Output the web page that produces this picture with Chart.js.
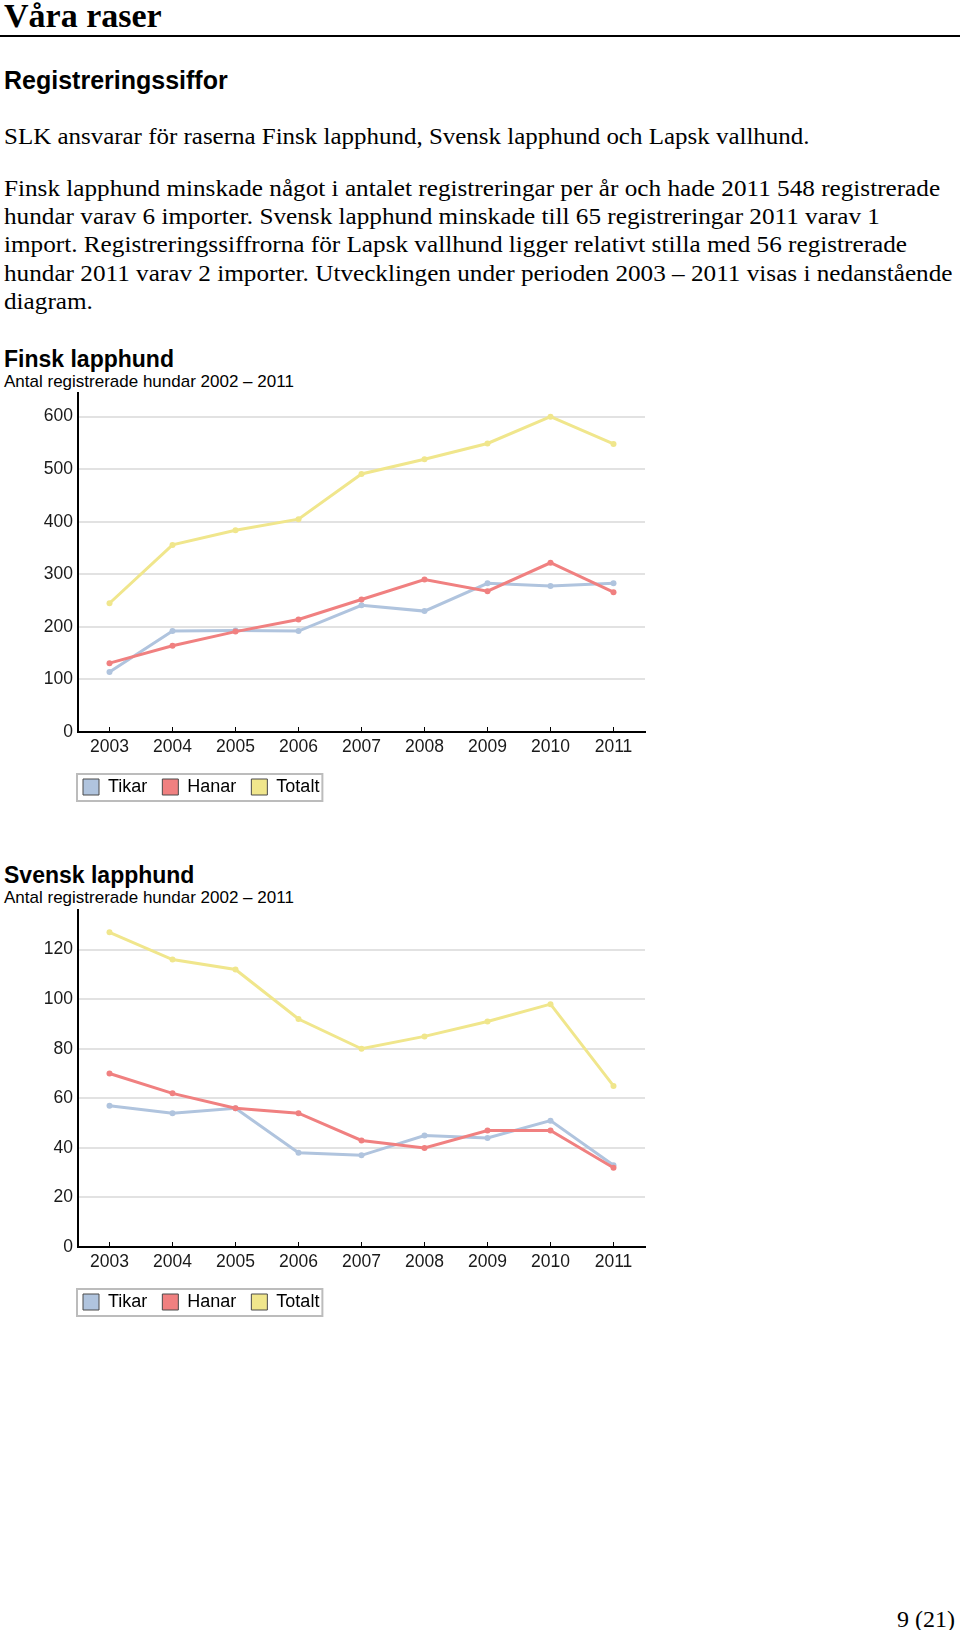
<!DOCTYPE html>
<html>
<head>
<meta charset="utf-8">
<script src="https://cdn.jsdelivr.net/npm/chart.js@4.4.1/dist/chart.umd.min.js"></script>
<style>
  body { margin: 0; background: #fff; width: 960px; height: 1630px; position: relative; overflow: hidden; }
  .t { position: absolute; left: 4px; white-space: nowrap; color: #000; }
  .serif { font-family: "Liberation Serif", "Times New Roman", serif; }
  .sans { font-family: "Liberation Sans", Arial, sans-serif; }
  .para { font-size: 24px; line-height: 24px; transform: scaleX(1.05); transform-origin: 0 0; }
  canvas { position: absolute; left: 0; }
</style>
</head>
<body>
<div class="t serif" style="top:-1px; font-size:34px; line-height:34px; font-weight:bold;">Våra raser</div>
<div style="position:absolute; left:0; top:35px; width:960px; height:2px; background:#000;"></div>
<div class="t sans" style="top:68px; font-size:25px; line-height:25px; font-weight:bold;">Registreringssiffor</div>

<div class="t serif para" style="top:124px; transform: scaleX(1.04);">SLK ansvarar för raserna Finsk lapphund, Svensk lapphund och Lapsk vallhund.</div>
<div class="t serif para" style="top:176px;">Finsk lapphund minskade något i antalet registreringar per år och hade 2011 548 registrerade</div>
<div class="t serif para" style="top:204px;">hundar varav 6 importer. Svensk lapphund minskade till 65 registreringar 2011 varav 1</div>
<div class="t serif para" style="top:232px;">import. Registreringssiffrorna för Lapsk vallhund ligger relativt stilla med 56 registrerade</div>
<div class="t serif para" style="top:261px;">hundar 2011 varav 2 importer. Utvecklingen under perioden 2003 – 2011 visas i nedanstående</div>
<div class="t serif para" style="top:289px;">diagram.</div>

<div class="t sans" style="top:348px; font-size:23px; line-height:23px; font-weight:bold;">Finsk lapphund</div>
<div class="t sans" style="top:373px; font-size:17px; line-height:17px;">Antal registrerade hundar 2002 – 2011</div>
<canvas id="finskChart" width="680" height="425" style="top:385px;"></canvas>

<div class="t sans" style="top:864px; font-size:23px; line-height:23px; font-weight:bold;">Svensk lapphund</div>
<div class="t sans" style="top:889px; font-size:17px; line-height:17px;">Antal registrerade hundar 2002 – 2011</div>
<canvas id="svenskChart" width="680" height="423" style="top:902px;"></canvas>

<div class="serif" style="position:absolute; right:5px; top:1607px; font-size:24px; line-height:24px;">9 (21)</div>

<script>
// registreringar per år
const years = ['2003', '2004', '2005', '2006', '2007', '2008', '2009', '2010', '2011'];

const finskTikar  = [114, 192, 193, 192, 241, 230, 283, 278, 283];
const finskHanar  = [131, 164, 191, 214, 252, 290, 268, 322, 266];
const finskTotalt = [245, 356, 384, 405, 491, 519, 549, 600, 548];

const svenskTikar  = [57, 54, 56, 38, 37, 45, 44, 51, 33];
const svenskHanar  = [70, 62, 56, 54, 43, 40, 47, 47, 32];
const svenskTotalt = [127, 116, 112, 92, 80, 85, 91, 98, 65];

const seriesNames  = ['Tikar', 'Hanar', 'Totalt'];
const seriesColors = ['#b0c4de', '#f08080', '#f0e68c'];

const finskTicks  = [0, 100, 200, 300, 400, 500, 600];
const svenskTicks = [0, 20, 40, 60, 80, 100, 120];

const tickFont = "'Liberation Sans', Arial, sans-serif";
const legendFont = "'Liberation Sans', Arial, sans-serif";

// flytta legenden in under diagrammet och rita en ram runt den
const legendFrame = {
    id: 'legendFrame',
    afterLayout(chart) {
        const lg = chart.legend;
        if (!lg) return;
        const shift = chart.chartArea.left - 10;
        lg.left += shift;
        lg.right += shift;
    },
    afterDraw(chart) {
        const boxes = chart.legend && chart.legend.legendHitBoxes;
        if (!boxes || !boxes.length) return;
        const first = boxes[0];
        const last = boxes[boxes.length - 1];
        const ctx = chart.ctx;
        const x0 = first.left - 6;
        const x1 = last.left + last.width + 3;
        ctx.save();
        ctx.strokeStyle = '#bcbcbc';
        ctx.lineWidth = 2;
        ctx.strokeRect(x0, first.top - 4, x1 - x0, first.height + 9);
        ctx.restore();
    }
};

function makeChart(id, tikar, hanar, totalt, yMax, yTicks) {
    const values = [tikar, hanar, totalt];
    const drawOrder = [1, 0, 2];
    const ctx = document.getElementById(id).getContext('2d');
    return new Chart(ctx, {
        type: 'line',
        data: {
            labels: years,
            datasets: seriesNames.map((name, i) => ({
                label: name,
                data: values[i],
                borderColor: seriesColors[i],
                backgroundColor: seriesColors[i],
                borderWidth: 3,
                pointRadius: 3,
                pointBorderWidth: 0,
                pointBackgroundColor: seriesColors[i],
                tension: 0,
                fill: false,
                order: drawOrder[i]
            }))
        },
        options: {
            responsive: false,
            animation: false,
            layout: { padding: { top: 8, left: 0, right: 35, bottom: 4 } },
            scales: {
                x: {
                    offset: true,
                    grid: {
                        drawOnChartArea: false,
                        drawTicks: true,
                        tickLength: -5,
                        tickColor: '#000',
                        tickWidth: 1
                    },
                    border: { color: '#000', width: 2 },
                    ticks: {
                        color: '#1a1a1a',
                        padding: 10,
                        maxRotation: 0,
                        font: { family: tickFont, size: 17.5 }
                    },
                    afterFit(scale) {
                        scale.height = 31;
                        scale.paddingLeft = 0;
                        scale.paddingRight = 0;
                    }
                },
                y: {
                    min: 0,
                    max: yMax,
                    grid: { color: '#e2e2e2', lineWidth: 2, drawTicks: false },
                    border: { color: '#000', width: 2 },
                    ticks: {
                        color: '#1a1a1a',
                        padding: 5,
                        font: { family: tickFont, size: 17.5 }
                    },
                    afterBuildTicks(scale) {
                        scale.ticks = yTicks.map(v => ({ value: v }));
                    },
                    afterFit(scale) {
                        scale.width = 78;
                        scale.paddingTop = 0;
                        scale.paddingBottom = 0;
                    }
                }
            },
            plugins: {
                tooltip: { enabled: false },
                legend: {
                    position: 'bottom',
                    align: 'start',
                    labels: {
                        boxWidth: 16,
                        boxHeight: 16,
                        padding: 15,
                        color: '#222',
                        font: { family: legendFont, size: 18 },
                        generateLabels(chart) {
                            return chart.data.datasets.map((ds, i) => ({
                                text: ds.label,
                                fillStyle: ds.borderColor,
                                strokeStyle: '#4a4a4a',
                                lineWidth: 1,
                                hidden: false,
                                datasetIndex: i
                            }));
                        }
                    }
                }
            }
        },
        plugins: [legendFrame]
    });
}

makeChart('finskChart', finskTikar, finskHanar, finskTotalt, 645, finskTicks);
makeChart('svenskChart', svenskTikar, svenskHanar, svenskTotalt, 136, svenskTicks);
</script>
</body>
</html>
